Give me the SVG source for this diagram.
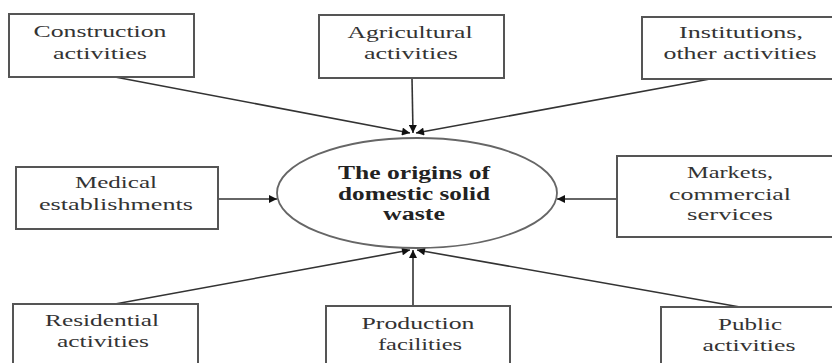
<svg xmlns="http://www.w3.org/2000/svg" width="832" height="363" viewBox="0 0 832 363">
<style>
.box{fill:#fff;stroke:#555;stroke-width:2}
.t{font-family:"Liberation Serif","DejaVu Serif",serif;font-size:17px;fill:#333;text-anchor:middle}
.c{font-family:"Liberation Serif","DejaVu Serif",serif;font-size:18px;font-weight:bold;fill:#222;text-anchor:middle}
.ln{stroke:#333;stroke-width:1.6;fill:none;marker-end:url(#ah)}
</style>
<defs>
<marker id="ah" viewBox="0 0 10 10" refX="10" refY="5" markerWidth="10" markerHeight="8" markerUnits="userSpaceOnUse" orient="auto">
<path d="M0,0 L10,5 L0,10 z" fill="#111"/>
</marker>
</defs>
<rect width="832" height="363" fill="#fff"/>
<g id="connectors">
<line class="ln" x1="115" y1="77" x2="410" y2="133"/>
<line class="ln" x1="412" y1="78" x2="413" y2="133"/>
<line class="ln" x1="710" y1="79" x2="416" y2="133"/>
<line class="ln" x1="218" y1="199" x2="277" y2="199"/>
<line class="ln" x1="617" y1="199" x2="557" y2="199"/>
<line class="ln" x1="115" y1="304" x2="410" y2="250"/>
<line class="ln" x1="413" y1="306" x2="413" y2="250"/>
<line class="ln" x1="740" y1="307" x2="417" y2="250"/>
</g>
<g id="center">
<ellipse cx="417" cy="193" rx="140" ry="55" fill="#fff" stroke="#666" stroke-width="1.8"/>
<text class="c" x="414" y="179" textLength="152" lengthAdjust="spacingAndGlyphs">The origins of</text>
<text class="c" x="414" y="200" textLength="152" lengthAdjust="spacingAndGlyphs">domestic solid</text>
<text class="c" x="414" y="220" textLength="62" lengthAdjust="spacingAndGlyphs">waste</text>
</g>
<g id="construction">
<rect class="box" x="9" y="14" width="185" height="63"/>
<text class="t" x="100" y="37" textLength="133" lengthAdjust="spacingAndGlyphs">Construction</text>
<text class="t" x="100" y="59" textLength="94" lengthAdjust="spacingAndGlyphs">activities</text>
</g>
<g id="agricultural">
<rect class="box" x="319" y="15" width="185" height="63"/>
<text class="t" x="410" y="38" textLength="125" lengthAdjust="spacingAndGlyphs">Agricultural</text>
<text class="t" x="411" y="59" textLength="94" lengthAdjust="spacingAndGlyphs">activities</text>
</g>
<g id="institutions">
<rect class="box" x="642" y="17" width="200" height="62"/>
<text class="t" x="741" y="38" textLength="124" lengthAdjust="spacingAndGlyphs">Institutions,</text>
<text class="t" x="740" y="59" textLength="153" lengthAdjust="spacingAndGlyphs">other activities</text>
</g>
<g id="medical">
<rect class="box" x="16" y="167" width="202" height="62"/>
<text class="t" x="116" y="188" textLength="82" lengthAdjust="spacingAndGlyphs">Medical</text>
<text class="t" x="116" y="210" textLength="154" lengthAdjust="spacingAndGlyphs">establishments</text>
</g>
<g id="markets">
<rect class="box" x="617" y="156" width="225" height="81"/>
<text class="t" x="730" y="178" textLength="86" lengthAdjust="spacingAndGlyphs">Markets,</text>
<text class="t" x="730" y="200" textLength="122" lengthAdjust="spacingAndGlyphs">commercial</text>
<text class="t" x="730" y="220" textLength="86" lengthAdjust="spacingAndGlyphs">services</text>
</g>
<g id="residential">
<rect class="box" x="13" y="304" width="185" height="70"/>
<text class="t" x="102" y="326" textLength="114" lengthAdjust="spacingAndGlyphs">Residential</text>
<text class="t" x="103" y="347" textLength="92" lengthAdjust="spacingAndGlyphs">activities</text>
</g>
<g id="production">
<rect class="box" x="326" y="306" width="184" height="70"/>
<text class="t" x="418" y="329" textLength="113" lengthAdjust="spacingAndGlyphs">Production</text>
<text class="t" x="420" y="350" textLength="84" lengthAdjust="spacingAndGlyphs">facilities</text>
</g>
<g id="public">
<rect class="box" x="661" y="307" width="180" height="70"/>
<text class="t" x="750" y="330" textLength="64" lengthAdjust="spacingAndGlyphs">Public</text>
<text class="t" x="749" y="351" textLength="93" lengthAdjust="spacingAndGlyphs">activities</text>
</g>
</svg>
